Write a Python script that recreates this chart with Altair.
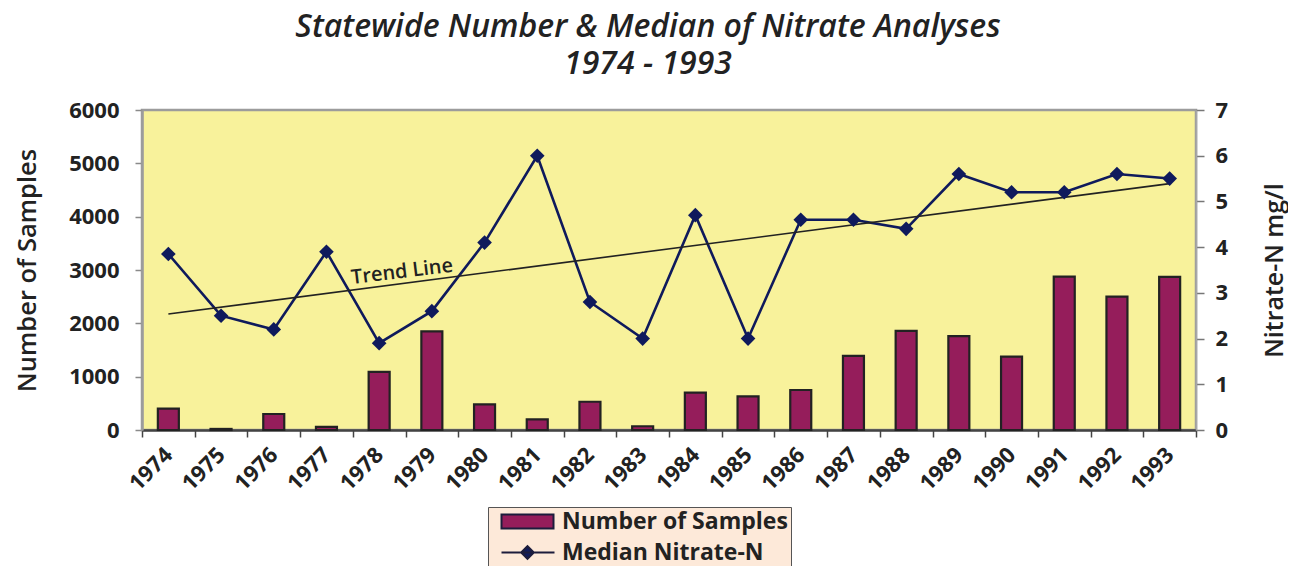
import altair as alt
import pandas as pd

# ---- data ----
years = [1974, 1975, 1976, 1977, 1978, 1979, 1980, 1981, 1982, 1983,
         1984, 1985, 1986, 1987, 1988, 1989, 1990, 1991, 1992, 1993]
samples = [400, 20, 300, 60, 1090, 1850, 480, 200, 530, 70,
           700, 630, 750, 1390, 1860, 1760, 1375, 2875, 2500, 2870]
median_n = [3.85, 2.5, 2.2, 3.9, 1.9, 2.6, 4.1, 6.0, 2.8, 2.0,
            4.7, 2.0, 4.6, 4.6, 4.4, 5.6, 5.2, 5.2, 5.6, 5.5]
series_names = ["Number of Samples", "Median Nitrate-N"]
left_ticks = [0, 1000, 2000, 3000, 4000, 5000, 6000]
right_ticks = [0, 1, 2, 3, 4, 5, 6, 7]
trend_label = {"year": [1979], "median": [3.54], "label": ["Trend Line"]}

df = pd.DataFrame({"year": years, "samples": samples, "median": median_n})
ann = pd.DataFrame(trend_label)
leg_df = pd.DataFrame({"year": [1974, 1974], "median": [0.0, 0.0], "series": series_names})

FONT = "Open Sans"
BAR = "#951d5b"
NAVY = "#0f1a5c"
TXT = "#222222"

x_enc = alt.X("year:O",
              scale=alt.Scale(paddingInner=0, paddingOuter=0),
              axis=alt.Axis(title=None, labelAngle=315, labelAlign="right",
                            labelBaseline="middle", labelPadding=14, labelOffset=0,
                            labelFont=FONT, labelFontSize=22, labelFontWeight="bold",
                            labelColor=TXT, tickBand="extent", tickSize=7,
                            tickColor="#444444", tickWidth=1.5,
                            domainColor="#444444", domainWidth=2.5))

right_axis = alt.Axis(orient="right", values=right_ticks, grid=False,
                      labelFont=FONT, labelFontSize=22, labelFontWeight="bold",
                      labelColor=TXT, labelPadding=11, tickSize=8,
                      tickColor="#777777", tickWidth=1.5,
                      domainColor="#a8a8a8", domainWidth=1.5,
                      title="Nitrate-N mg/l", titleFont=FONT, titleFontSize=25,
                      titleFontWeight=600, titleColor=TXT, titleAngle=270,
                      titleAlign="center", titleBaseline="middle",
                      titleX=78, titleY=160)
y_right = alt.Y("median:Q", scale=alt.Scale(domain=[0, 7], nice=False), axis=right_axis)

bars = alt.Chart(df).mark_bar(fill=BAR, stroke="#222222", strokeWidth=2.2, size=21).encode(
    x=x_enc,
    y=alt.Y("samples:Q", scale=alt.Scale(domain=[0, 6000], nice=False),
            axis=alt.Axis(values=left_ticks, grid=False, format="d",
                          labelFont=FONT, labelFontSize=22, labelFontWeight="bold",
                          labelColor=TXT, labelPadding=16, tickSize=7,
                          tickColor="#8a8a8a", tickWidth=1.5,
                          domainColor="#9c9c9c", domainWidth=2.5,
                          title="Number of Samples", titleFont=FONT, titleFontSize=25.5,
                          titleFontWeight=600, titleColor=TXT, titleAngle=270,
                          titleAlign="center", titleBaseline="middle",
                          titleX=-115, titleY=160)),
)

line = alt.Chart(df).mark_line(color=NAVY, strokeWidth=2.6).encode(x=x_enc, y=y_right)
points = alt.Chart(df).mark_point(shape="diamond", filled=True, size=215,
                                  color=NAVY, opacity=1).encode(x=x_enc, y=y_right)
trend = alt.Chart(df).transform_regression("year", "median").mark_line(
    color=TXT, strokeWidth=1.6).encode(x=x_enc, y=y_right)
trend_text = alt.Chart(ann).mark_text(angle=353, font=FONT, fontSize=20, fontWeight=600,
                                      color=TXT, dx=-30, align="center",
                                      baseline="middle").encode(
    x=x_enc, y=y_right, text="label:N")

rect_path = "M-0.2,-1.4H10.2V1.4H-0.2Z"
line_path = "M-0.2,0H10.4M3.74,0L5.0,-1.26L6.26,0L5.0,1.26Z"
legend = alt.Legend(title=None, orient="none", legendX=346, legendY=397,
                    fillColor="#fde9d9", strokeColor="#555555", padding=3,
                    labelFont=FONT, labelFontSize=23, labelFontWeight="bold",
                    labelColor=TXT, labelOffset=48, labelLimit=500,
                    symbolSize=100, symbolStrokeColor="#1c1c3c",
                    symbolStrokeWidth=2, rowPadding=7)
legend_layer = alt.Chart(leg_df).transform_filter("false").mark_point(
    filled=True, opacity=1).encode(
    x=x_enc, y=y_right,
    color=alt.Color("series:N", scale=alt.Scale(domain=series_names, range=[BAR, NAVY]),
                    legend=legend, sort=series_names),
    shape=alt.Shape("series:N", scale=alt.Scale(domain=series_names,
                                                range=[rect_path, line_path]),
                    legend=legend, sort=series_names),
)

right_layer = alt.layer(line, trend, points, trend_text, legend_layer)

chart = alt.layer(bars, right_layer).resolve_scale(y="independent").properties(
    width=1054, height=320,
    autosize=alt.AutoSizeParams(type="none"),
    padding={"left": 134, "top": 102, "right": 92, "bottom": 136},
    title=alt.TitleParams(text="Statewide Number & Median of Nitrate Analyses",
                          subtitle="1974 - 1993",
                          font=FONT, fontSize=32, fontStyle="italic", fontWeight=600,
                          color=TXT, subtitleFont=FONT, subtitleFontSize=32,
                          subtitleFontStyle="italic", subtitleFontWeight=600,
                          subtitleColor=TXT, subtitlePadding=5,
                          anchor="middle", dx=-21, offset=18),
).configure_view(fill="#f8f29b", stroke="#9c9c9c", strokeWidth=2.5)

chart.save("out.html", embed_options={"renderer": "svg", "actions": False})
